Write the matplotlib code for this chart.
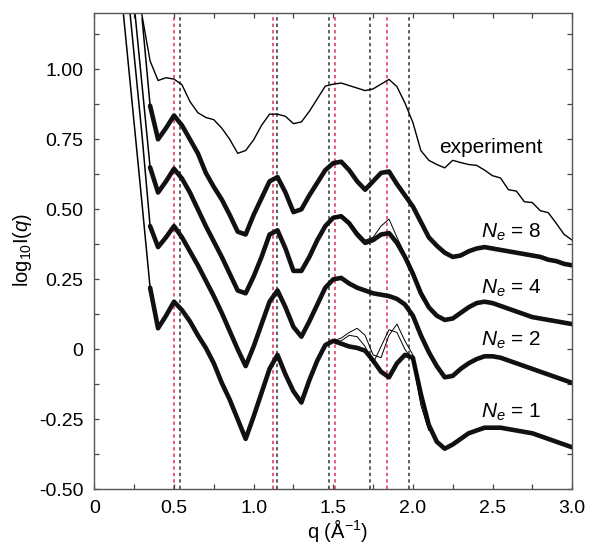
import numpy as np
import matplotlib
matplotlib.use('Agg')
import matplotlib.pyplot as plt
from matplotlib.ticker import MultipleLocator, FixedLocator, FixedFormatter

plt.rcParams['font.family'] = ['Liberation Sans', 'DejaVu Sans']
plt.rcParams['mathtext.fontset'] = 'custom'
plt.rcParams['mathtext.rm'] = 'Liberation Sans'
plt.rcParams['mathtext.it'] = 'Liberation Sans:italic'

nan = np.nan
Q = [0.15, 0.20, 0.25, 0.30, 0.35, 0.40, 0.45, 0.50, 0.55, 0.60,
     0.65, 0.70, 0.75, 0.80, 0.85, 0.90, 0.95, 1.00, 1.05, 1.10,
     1.15, 1.20, 1.25, 1.30, 1.35, 1.40, 1.45, 1.50, 1.55, 1.60,
     1.65, 1.70, 1.75, 1.80, 1.85, 1.90, 1.95, 2.00, 2.05, 2.10,
     2.15, 2.20, 2.25, 2.30, 2.35, 2.40, 2.45, 2.50, 2.55, 2.60,
     2.65, 2.70, 2.75, 2.80, 2.85, 2.90, 2.95, 3.00]

ne1 = [1.386, 1.096, 0.806, 0.516, 0.22, 0.075, 0.12, 0.17, 0.14, 0.10,
       0.05, 0.005, -0.05, -0.12, -0.18, -0.25, -0.32, -0.24, -0.155, -0.07,
       -0.02, -0.09, -0.15, -0.19, -0.11, -0.04, 0.015, 0.03, 0.02, 0.01,
       0.005, -0.005, -0.04, -0.08, -0.10, -0.05, -0.02, -0.03, -0.16, -0.27,
       -0.33, -0.355, -0.34, -0.32, -0.30, -0.29, -0.28, -0.28, -0.28, -0.285,
       -0.29, -0.295, -0.30, -0.31, -0.32, -0.33, -0.34, -0.35]

ne2 = [nan, 1.34, 1.05, 0.76, 0.44, 0.365, 0.40, 0.44, 0.40, 0.35,
       0.30, 0.245, 0.19, 0.13, 0.065, 0.0, -0.06, 0.01, 0.09, 0.17,
       0.21, 0.15, 0.08, 0.045, 0.10, 0.16, 0.22, 0.25, 0.255, 0.235,
       0.22, 0.21, 0.20, 0.195, 0.19, 0.18, 0.16, 0.12, 0.05, -0.01,
       -0.06, -0.10, -0.095, -0.07, -0.05, -0.035, -0.025, -0.025, -0.03, -0.04,
       -0.05, -0.06, -0.07, -0.08, -0.09, -0.10, -0.11, -0.12]

ne4 = [nan, nan, 1.23, 0.94, 0.65, 0.56, 0.60, 0.645, 0.61, 0.56,
       0.50, 0.44, 0.385, 0.33, 0.27, 0.21, 0.20, 0.26, 0.33, 0.41,
       0.425, 0.36, 0.28, 0.28, 0.33, 0.39, 0.44, 0.47, 0.475, 0.45,
       0.41, 0.38, 0.39, 0.41, 0.415, 0.38, 0.33, 0.27, 0.20, 0.15,
       0.12, 0.105, 0.11, 0.13, 0.15, 0.165, 0.17, 0.165, 0.155, 0.145,
       0.135, 0.125, 0.115, 0.11, 0.105, 0.10, 0.095, 0.09]

ne8 = [nan, nan, nan, 1.18, 0.87, 0.75, 0.79, 0.835, 0.80, 0.75,
       0.70, 0.63, 0.58, 0.535, 0.48, 0.42, 0.41, 0.48, 0.54, 0.60,
       0.615, 0.56, 0.49, 0.50, 0.55, 0.595, 0.64, 0.665, 0.67, 0.64,
       0.60, 0.57, 0.60, 0.63, 0.635, 0.59, 0.55, 0.51, 0.455, 0.40,
       0.37, 0.345, 0.33, 0.335, 0.35, 0.36, 0.365, 0.36, 0.355, 0.35,
       0.345, 0.34, 0.335, 0.33, 0.32, 0.315, 0.305, 0.30]

expt = [nan, nan, 1.38, 1.19, 1.03, 0.96, 0.97, 0.965, 0.945, 0.885,
        0.845, 0.828, 0.82, 0.79, 0.75, 0.70, 0.71, 0.748, 0.80, 0.84,
        0.84, 0.832, 0.806, 0.812, 0.85, 0.895, 0.94, 0.947, 0.951, 0.942,
        0.933, 0.924, 0.93, 0.947, 0.964, 0.938, 0.88, 0.81, 0.71, 0.675,
        0.66, 0.648, 0.675, 0.667, 0.66, 0.657, 0.64, 0.62, 0.612, 0.57,
        0.565, 0.527, 0.524, 0.495, 0.488, 0.45, 0.41, 0.39]

# outlier members of the N_e = 1 and N_e = 4 ensembles (q = 1.50 ... 2.10)
Q_out = [1.50, 1.55, 1.60, 1.65, 1.70, 1.75, 1.80, 1.85, 1.90, 1.95, 2.00, 2.05, 2.10]
ne1_out_a = [0.03, 0.04, 0.06, 0.075, 0.05, -0.02, -0.03, 0.05, 0.09, 0.03, -0.02, -0.15, -0.26]
ne1_out_b = [0.03, 0.03, 0.05, 0.045, 0.01, -0.05, 0.01, 0.07, 0.06, 0.0, -0.04, -0.20, -0.29]
ne4_out = [0.47, 0.48, 0.455, 0.42, 0.39, 0.40, 0.44, 0.465, 0.40, 0.34, 0.28, 0.21, 0.155]

red_lines = [0.50, 1.12, 1.51, 1.835]
black_lines = [0.535, 1.145, 1.475, 1.73, 1.975]

labels = [('experiment', 2.166, 0.701),
          (r'$N_e$ = 8', 2.427, 0.399),
          (r'$N_e$ = 4', 2.427, 0.199),
          (r'$N_e$ = 2', 2.427, 0.014),
          (r'$N_e$ = 1', 2.427, -0.245)]

fig = plt.figure(figsize=(6.01, 5.55), dpi=100)
ax = fig.add_axes([0.157, 0.1184, 0.795, 0.8576])

for x in red_lines:
    ax.axvline(x, color='#e0304e', lw=1.1, ls=(0, (2.2, 2.0)), zorder=1)
for x in black_lines:
    ax.axvline(x, color='#333333', lw=1.1, ls=(0, (2.2, 2.0)), zorder=1)

qa = np.array(Q)
for s in (ne1, ne2, ne4, ne8):
    sa = np.array(s)
    ax.plot(qa, sa, color='black', lw=1.1, zorder=2)
    ax.plot(qa[4:], sa[4:], color='#111111', lw=3.3, solid_joinstyle='round',
            solid_capstyle='round', zorder=2)
for s in (ne1_out_a, ne1_out_b, ne4_out):
    ax.plot(Q_out, s, color='black', lw=0.7, zorder=2)
ax.plot(qa, np.array(expt), color='black', lw=1.0, zorder=2)

for txt, x, y in labels:
    ax.text(x, y, txt, fontsize=15, ha='left', va='baseline')

ax.set_xlim(0, 3.0)
ax.set_ylim(-0.5, 1.2)
ax.xaxis.set_major_locator(FixedLocator([0, 0.5, 1.0, 1.5, 2.0, 2.5, 3.0]))
ax.xaxis.set_major_formatter(FixedFormatter(['0', '0.5', '1.0', '1.5', '2.0', '2.5', '3.0']))
ax.yaxis.set_major_locator(FixedLocator([-0.5, -0.25, 0, 0.25, 0.5, 0.75, 1.0]))
ax.yaxis.set_major_formatter(FixedFormatter(['-0.50', '-0.25', '0', '0.25', '0.50', '0.75', '1.00']))
ax.xaxis.set_minor_locator(MultipleLocator(0.25))
ax.yaxis.set_minor_locator(MultipleLocator(0.125))
ax.tick_params(which='both', direction='in', top=True, right=True, length=3.8,
               width=0.9, color='#444444', labelsize=14, pad=8)
for sp in ax.spines.values():
    sp.set_color('#555555')
    sp.set_linewidth(1.0)

fig.text(338 / 601, 1 - 538 / 555, r'q (Å$^{-1}$)', fontsize=14.5, ha='center', va='baseline')
fig.text(22 / 601, 1 - 250 / 555, r'log$_{10}$I($q$)', fontsize=14.5, ha='center', va='center', rotation=90)

fig.savefig('out.png', dpi=100)
